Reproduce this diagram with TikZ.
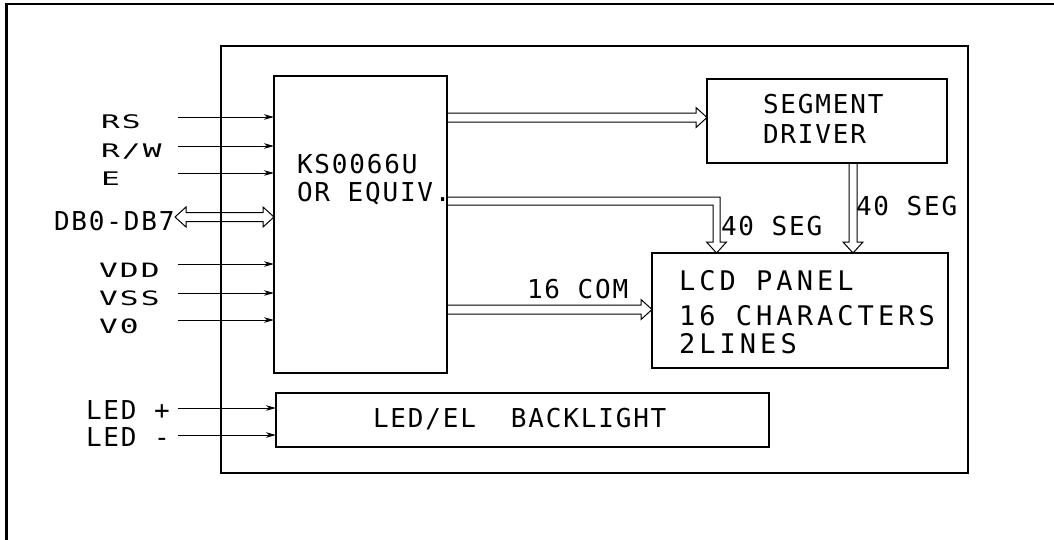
\documentclass[tikz,border=0pt]{standalone}
\usepackage{fontspec}
\usepackage{graphicx}
\usetikzlibrary{calc,arrows.meta}
\newfontfamily\cadfont{DejaVu Sans Mono}[LetterSpace=7]
\newfontfamily\cadwidefont{DejaVu Sans Mono}[LetterSpace=15]
\newcommand\hollowright[2]{\draw[hollow] ($(#1)+(0,-4.5)$) -- ($(#2)+(-11,-4.5)$) -- ($(#2)+(-11,-10)$) -- (#2) -- ($(#2)+(-11,10)$) -- ($(#2)+(-11,4.5)$) -- ($(#1)+(0,4.5)$);}
\newcommand\hollowdown[2]{\draw[hollow] ($(#1)+(-4,0)$) -- ($(#2)+(-4,-11)$) -- ($(#2)+(-10,-11)$) -- (#2) -- ($(#2)+(10,-11)$) -- ($(#2)+(4,-11)$) -- ($(#1)+(4,0)$);}
\tikzset{
  box/.style={draw, line width=1.1pt, inner sep=0pt, outer sep=0pt},
  lbl/.style={inner sep=0pt, outer sep=0pt, anchor=base west, font=\cadfont\fontsize{26}{26}\selectfont},
  lblwide/.style={lbl, font=\cadwidefont\fontsize{27}{27}\selectfont},
  sig/.style={line width=1pt, -{Stealth[length=10pt,width=5.5pt,inset=3pt]}},
  hollow/.style={line width=1pt, line join=miter},
}
\begin{document}
\begin{tikzpicture}[x=1pt,y=-1pt]
\useasboundingbox (0,0) rectangle (1054,539);
\fill[white] (0,0) rectangle (1054,539);
\clip (0,0) rectangle (1054,539);
% outer frame
\draw[line width=2.6pt] (6.5,560) -- (6.5,4) -- (1070,4);
% boxes
\node[box, minimum width=747pt, minimum height=427pt] (inner) at (594.5,259.5) {};
\node[box, minimum width=173pt, minimum height=297pt] (ctrl) at (360.5,224.5) {};
\node[box, minimum width=240pt, minimum height=84pt] (seg) at (827,121) {};
\node[box, minimum width=296pt, minimum height=115pt] (lcd) at (800,310.5) {};
\node[box, minimum width=493pt, minimum height=54pt] (bl) at (522.5,420) {};
% box texts
\node[lbl] (t1) at (297,173) {KS0066U};
\node[lbl] (t2) at (297,201) {OR EQUIV.};
\node[lbl] (t3) at (763,113) {SEGMENT};
\node[lbl] (t4) at (763,143) {DRIVER};
\node[lblwide] (t5) at (679,290) {LCD PANEL};
\node[lblwide] (t6) at (679,325) {16 CHARACTERS};
\node[lblwide] (t7) at (679,353) {2LINES};
\node[lbl] (t8) at (373,427) {LED/EL\ \ BACKLIGHT};
\node[lbl] (t9) at (527,298) {16 COM};
\node[lbl] (t10) at (721,235) {40 SEG};
\node[lbl] (t11) at (856,215) {40 SEG};
% left labels
\node[lbl] (rs) at (101,128) {\scalebox{1.2}[0.72]{RS}};
\node[lbl] (rw) at (101,157) {\scalebox{1.2}[0.72]{R/W}};
\node[lbl] (e) at (101,185) {\scalebox{1.2}[0.72]{E}};
\node[lbl] (db) at (54,230) {DB0-DB7};
\node[lbl] (vdd) at (99,277) {\scalebox{1.2}[0.76]{VDD}};
\node[lbl] (vss) at (99,305) {\scalebox{1.2}[0.76]{VSS}};
\node[lbl] (vo) at (99,333) {\scalebox{1.2}[0.76]{V0}};
\node[lbl] (ledp) at (86,419) {LED +};
\node[lbl] (ledm) at (86,446) {LED -};
% single signal arrows
\foreach \n/\y in {a/117,b/146,c/173,d/264,f/293,g/320}{
  \coordinate (s\n) at (178,\y);
  \draw[sig] (s\n) -- (s\n -| ctrl.west);
}
\foreach \n/\y in {p/408,m/435}{
  \coordinate (l\n) at (178,\y);
  \draw[sig] (l\n) -- (l\n -| bl.west);
}
% DB0-DB7 bidirectional hollow arrow
\coordinate (dbL) at (175,217);
\coordinate (dbR) at (dbL -| ctrl.west);
\draw[hollow] (dbL) -- ++(11,-10) -- ++(0,5.5) -- ($(dbR)+(-11,-4.5)$) -- ($(dbR)+(-11,-10)$) -- (dbR) -- ($(dbR)+(-11,10)$) -- ($(dbR)+(-11,4.5)$) -- ($(dbL)+(11,4.5)$) -- ($(dbL)+(11,10)$) -- cycle;
% controller -> segment driver
\coordinate (cs1) at (ctrl.east |- 0,117.5);
\coordinate (cs2) at (seg.west |- cs1);
\hollowright{cs1}{cs2}
% controller -> LCD (16 COM)
\coordinate (cc1) at (ctrl.east |- 0,309.5);
\coordinate (cc2) at (lcd.west |- cc1);
\hollowright{cc1}{cc2}
% segment driver -> LCD
\coordinate (sd1) at (853,0 |- seg.south);
\coordinate (sd2) at (853,0 |- lcd.north);
\hollowdown{sd1}{sd2}
% controller -> LCD (40 SEG, L-shaped)
\coordinate (l40s) at (ctrl.east |- 0,201);
\coordinate (l40e) at (716.5,0 |- lcd.north);
\draw[hollow] ($(l40s)+(0,-4)$) -| ($(l40e)+(3.5,-11)$) -- ($(l40e)+(10,-11)$) -- (l40e) -- ($(l40e)+(-10,-11)$) -- ($(l40e)+(-3.5,-11)$) |- ($(l40s)+(0,4)$);
\end{tikzpicture}
\end{document}
